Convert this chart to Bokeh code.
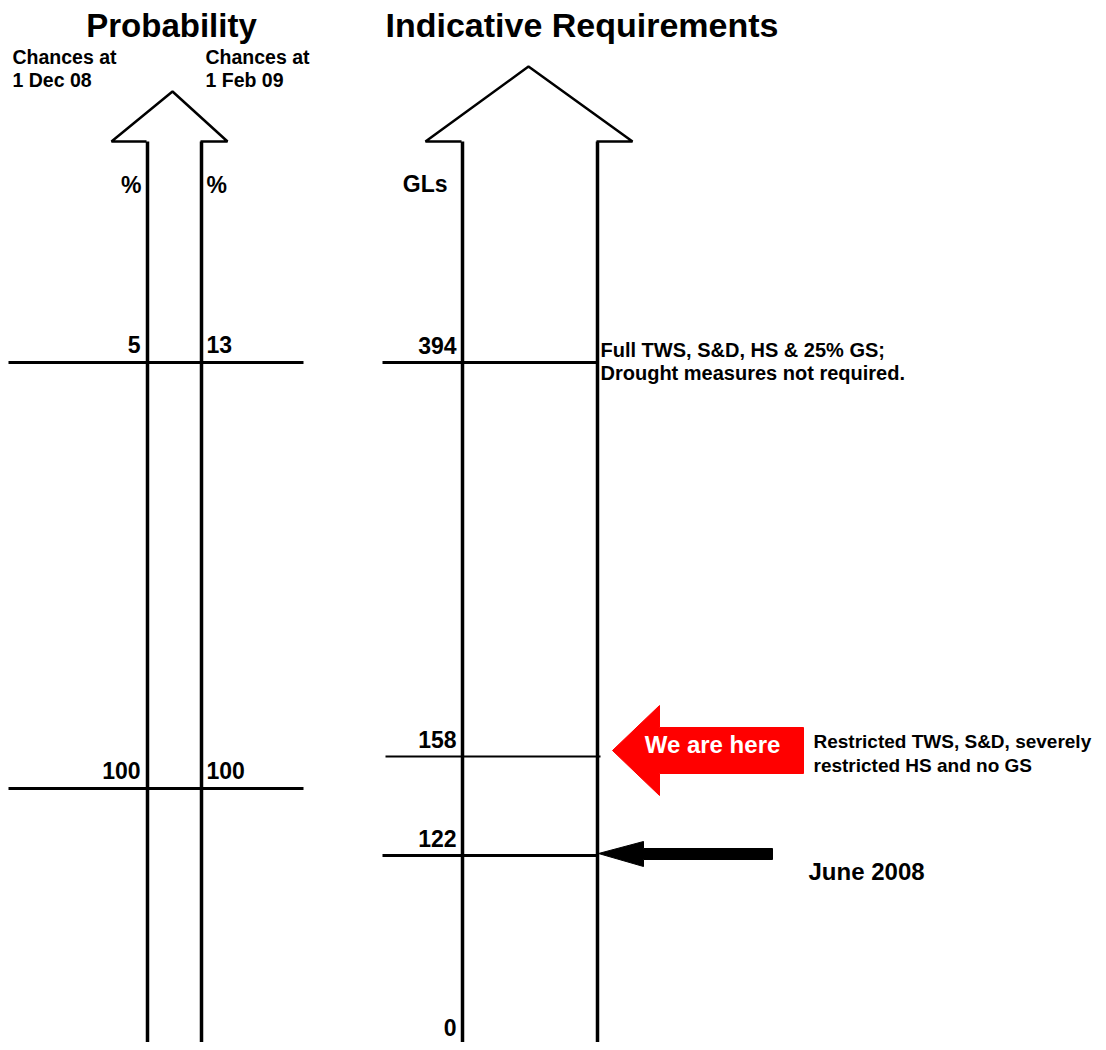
from bokeh.plotting import figure
from bokeh.models import Range1d
from bokeh.core.properties import value
from bokeh.embed import file_html
from bokeh.resources import INLINE

# ---------------- data ----------------
titles = ["Probability", "Indicative Requirements"]
prob_headers = [["Chances at", "1 Dec 08"], ["Chances at", "1 Feb 09"]]
prob_unit = "%"
gl_unit = "GLs"
prob_dec08 = ["5", "100"]          # chances at 1 Dec 08 (%)
prob_feb09 = ["13", "100"]         # chances at 1 Feb 09 (%)
gl_levels = [394, 158, 122, 0]     # indicative requirements (GL)
gl_descriptions = {
    394: ["Full TWS, S&D, HS & 25% GS;", "Drought measures not required."],
    158: ["Restricted TWS, S&D, severely", "restricted HS and no GS"],
}
current_marker = "We are here"
past_marker = "June 2008"
current_level = 158
past_level = 122

# ---------------- layout (schematic, not to scale) ----------------
FONT = "Liberation Sans"
W, H = 1098, 1042
p = figure(width=W, height=H, x_range=Range1d(0, W), y_range=Range1d(H, 0),
           output_backend="svg", toolbar_location=None, min_border=0)
p.axis.visible = False
p.grid.visible = False
p.outline_line_color = None
p.background_fill_color = "white"

# schematic positions of each level on the two arrows
gl_y = {394: 362, 158: 756, 122: 855, 0: 1050}
prob_y = [362, 788]
left_cols = (147, 201)
right_cols = (462, 597)
bottom = 1060


def txt(x, y, s, size, align="left", color="black"):
    dy = 0.42 * size  # baseline correction
    p.text(x=[x], y=[y - dy], text=[s], text_font=value(FONT), text_font_style="bold",
           text_font_size=f"{size}px", text_align=align, text_baseline="alphabetic",
           text_color=color)


# titles
txt(171, 39, titles[0], 33, "center")
txt(385, 39, titles[1], 34, "left")

# probability headers
for (l1, l2), x in zip(prob_headers, (12, 205)):
    txt(x, 65, l1, 19.5)
    txt(x, 88, l2, 19.5)

# arrow heads (outlines)
p.line(x=[left_cols[0] - 1, 111, 172, 227, left_cols[1] - 1],
       y=[141, 141, 91, 141, 141], line_color="black", line_width=2.5)
p.line(x=[right_cols[0] - 1, 425, 528, 632, right_cols[1] - 1],
       y=[141, 141, 66, 141, 141], line_color="black", line_width=2.5)

# arrow shafts
p.segment(x0=list(left_cols) + list(right_cols), y0=[141] * 4,
          x1=list(left_cols) + list(right_cols), y1=[bottom] * 4,
          line_color="black", line_width=3.5)

# units
txt(141, 194, prob_unit, 23, "right")
txt(206, 194, prob_unit, 23, "left")
txt(447, 193, gl_unit, 23, "right")

# probability levels
p.segment(x0=[8] * len(prob_y), y0=prob_y, x1=[303] * len(prob_y), y1=prob_y,
          line_color="black", line_width=3)
for a, b, y in zip(prob_dec08, prob_feb09, prob_y):
    txt(140, y - 8, a, 23, "right")
    txt(206, y - 8, b, 23, "left")

# GL levels
line_ext = {394: (382, 597, 3), 158: (385, 600, 2), 122: (382, 597, 3)}
for lv in gl_levels:
    y = gl_y[lv]
    if lv in line_ext:
        x0, x1, lw = line_ext[lv]
        p.segment(x0=[x0], y0=[y], x1=[x1], y1=[y], line_color="black", line_width=lw)
        txt(456, y - 7, str(lv), 23, "right")
    else:
        txt(456, 1037, str(lv), 23, "right")

# descriptions
d394 = gl_descriptions[394]
txt(600, 358, d394[0], 20)
txt(600, 381, d394[1], 20)
d158 = gl_descriptions[158]
txt(813, 749, d158[0], 19)
txt(813, 773, d158[1], 19)

# red "we are here" arrow
yc = gl_y[current_level] - 6
p.patch(x=[612, 659, 659, 803, 803, 659, 659],
        y=[yc, yc - 45, yc - 23, yc - 23, yc + 23, yc + 23, yc + 45],
        fill_color="#FF0000", line_color="#FF0000", line_width=1)
txt(712, 754, current_marker, 24, "center", "white")

# black "June 2008" arrow
yb = gl_y[past_level] - 2
p.patch(x=[598, 643, 643, 772, 772, 643, 643],
        y=[yb, yb - 12, yb - 5, yb - 5, yb + 6, yb + 6, yb + 13],
        fill_color="black", line_color="black", line_width=1)
txt(808, 881, past_marker, 24)

open("out.html", "w").write(file_html(p, INLINE))
